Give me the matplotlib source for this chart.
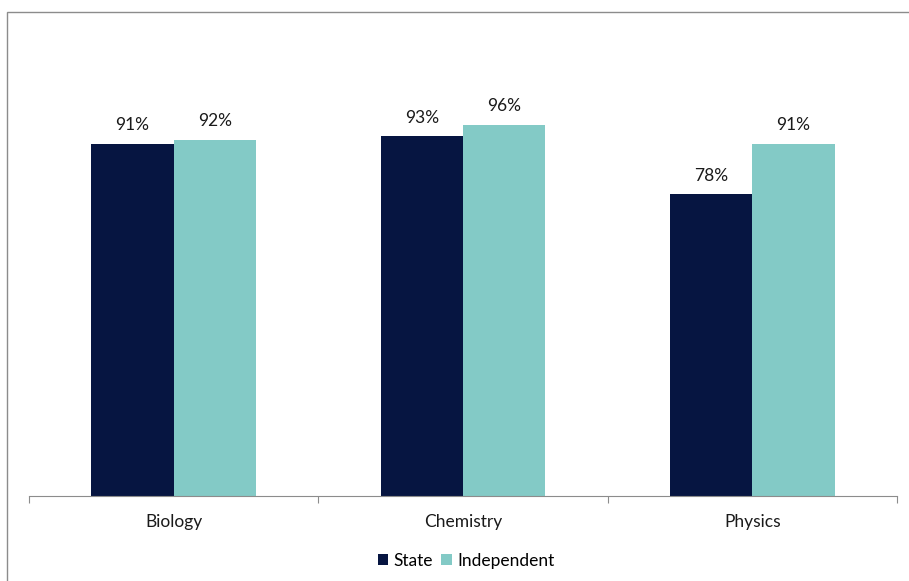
import numpy as np
import matplotlib.pyplot as plt
from matplotlib.patches import Rectangle

subjects = ['Biology', 'Chemistry', 'Physics']
state = [0.91, 0.93, 0.78]
independent = [0.92, 0.96, 0.91]
series_names = ['State', 'Independent']

plt.rcParams['font.family'] = ['Lato', 'DejaVu Sans']

fig = plt.figure(figsize=(9.09, 5.81), dpi=100)
ax = fig.add_axes([29/909, 85/581, 868/909, 464/581])

# outer chart border (only left/top visible in the crop)
fig.patches.append(Rectangle((7/909, -0.1), 1.2, (581-12)/581 + 0.1, transform=fig.transFigure,
                             fill=False, edgecolor='#8c8c8c', linewidth=1))

x = np.arange(len(subjects))
w = 0.284
b1 = ax.bar(x - w/2, state, w, color='#061541', label=series_names[0])
b2 = ax.bar(x + w/2, independent, w, color='#83CAC6', label=series_names[1])

for bars in (b1, b2):
    for r in bars:
        ax.text(r.get_x() + r.get_width()/2, r.get_height() + 0.028, '%d%%' % round(r.get_height()*100),
                ha='center', va='bottom', fontsize=12.5, color='#1a1a1a')

ax.set_xlim(-0.5, 2.5)
ax.set_ylim(0, 1.2)
ax.set_yticks([])
for s in ['top', 'right', 'left']:
    ax.spines[s].set_visible(False)
ax.spines['bottom'].set_color('#8c8c8c')
ax.set_xticks([-0.5, 0.5, 1.5, 2.5])
ax.set_xticklabels([])
ax.set_xticks(x, minor=True)
ax.set_xticklabels(subjects, minor=True, fontsize=12.5, color='#1a1a1a')
ax.tick_params(axis='x', which='major', length=5, color='#8c8c8c')
ax.tick_params(axis='x', which='minor', length=0, pad=13)

fig.legend(handles=[b1, b2], loc='center', bbox_to_anchor=(466/909, 1 - 561/581), ncol=2,
           frameon=False, fontsize=12.5, handlelength=0.6, handleheight=0.6,
           handletextpad=0.3, columnspacing=0.5)

fig.savefig('out.png', dpi=100)
